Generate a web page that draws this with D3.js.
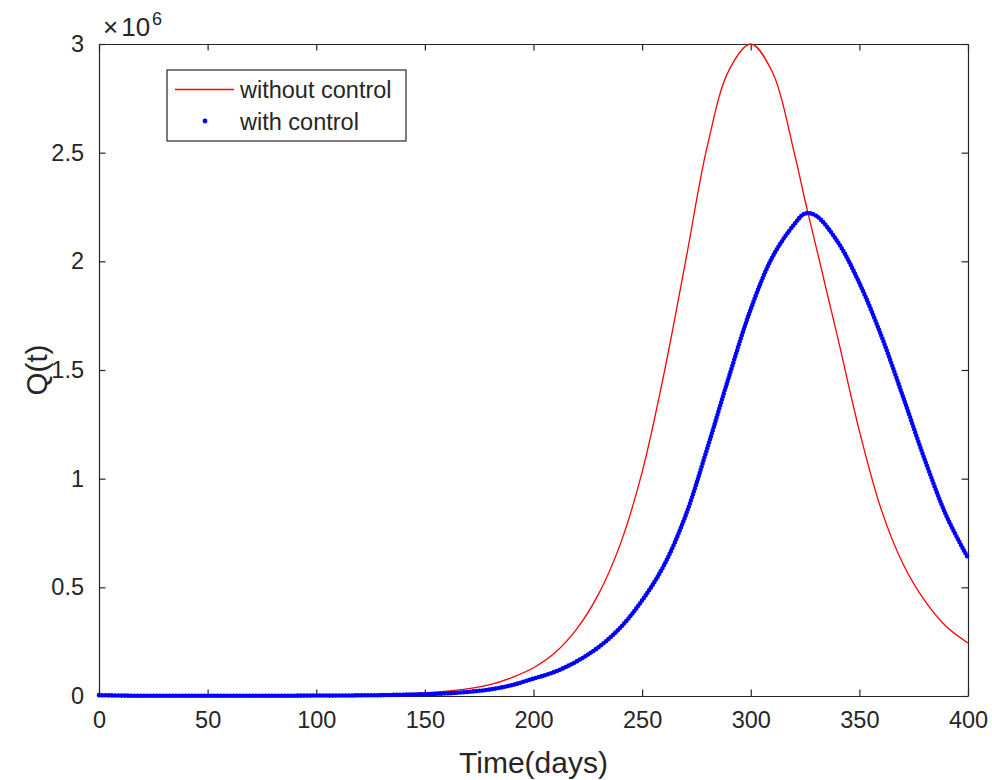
<!DOCTYPE html>
<html>
<head>
<meta charset="utf-8">
<script src="https://cdn.jsdelivr.net/npm/d3@7"></script>
<style>
  body { margin: 0; background: #fff; }
  svg { display: block; font-family: "Liberation Sans", Arial, sans-serif; }
</style>
</head>
<body>
<svg width="992" height="780"></svg>
<script>
"use strict"

// values, in units of 1e6
const days = [0, 10, 20, 30, 40, 50, 60, 70, 80, 90, 100, 110, 120, 130, 140, 150, 160, 170, 180, 190,
              200, 210, 220, 230, 240, 250, 260, 270, 280, 290, 300, 310, 320, 325, 330, 340, 350, 360,
              370, 380, 390, 400]
const withoutControl = [0.001, 0.001, 0.001, 0.001, 0.001, 0.001, 0.001, 0.001, 0.0015, 0.002, 0.002, 0.003, 0.004, 0.006, 0.009,
                        0.014, 0.022, 0.034, 0.052, 0.085, 0.13, 0.20, 0.31, 0.47, 0.70, 1.03, 1.48, 2.00, 2.53, 2.88,
                        3.0, 2.87, 2.50, 2.28, 2.07, 1.65, 1.22, 0.86, 0.61, 0.44, 0.32, 0.244]
const withControl = [0.004, 0.002, 0.001, 0.001, 0.001, 0.001, 0.001, 0.001, 0.001, 0.0015, 0.002, 0.002, 0.003, 0.004, 0.006,
                     0.008, 0.012, 0.019, 0.03, 0.05, 0.08, 0.112, 0.16, 0.225, 0.315, 0.44, 0.60, 0.83, 1.14, 1.47,
                     1.78, 2.02, 2.17, 2.22, 2.21, 2.09, 1.90, 1.66, 1.38, 1.09, 0.83, 0.635]
const xTicks = [0, 50, 100, 150, 200, 250, 300, 350, 400]
const yTicks = [0, 0.5, 1, 1.5, 2, 2.5, 3]
const seriesNames = ["without control", "with control"]

const margin = {left: 99, top: 44, right: 24, bottom: 84}
const width = 992 - margin.left - margin.right
const height = 780 - margin.top - margin.bottom
const axisColor = "#262626"
const tickFont = "23.5px"
const tickLen = 6.5

const svg = d3.select("svg")
const g = svg.append("g").attr("transform", "translate(" + margin.left + "," + margin.top + ")")

const x = d3.scaleLinear().domain([0, 400]).range([0, width])
const y = d3.scaleLinear().domain([0, 3]).range([height, 0])

// axes with inward ticks, mirrored on top and right
function styleAxis(sel) {
    sel.selectAll("path, line").attr("stroke", axisColor).attr("stroke-width", 1.2)
    sel.selectAll("text").attr("fill", axisColor).style("font-size", tickFont)
        .style("font-family", "'Liberation Sans', Arial, sans-serif")
}

g.append("g")
    .attr("transform", "translate(0," + height + ")")
    .call(d3.axisBottom(x).tickValues(xTicks).tickSizeInner(-tickLen).tickSizeOuter(0).tickPadding(15))
    .call(styleAxis)

g.append("g")
    .call(d3.axisTop(x).tickValues(xTicks).tickSizeInner(-tickLen).tickSizeOuter(0).tickFormat(""))
    .call(styleAxis)

g.append("g")
    .call(d3.axisLeft(y).tickValues(yTicks).tickSizeInner(-tickLen).tickSizeOuter(0).tickPadding(15)
        .tickFormat(d => String(d)))
    .call(styleAxis)

g.append("g")
    .attr("transform", "translate(" + width + ",0)")
    .call(d3.axisRight(y).tickValues(yTicks).tickSizeInner(-tickLen).tickSizeOuter(0).tickFormat(""))
    .call(styleAxis)

// exponent label
const expo = g.append("text")
    .attr("x", 4).attr("y", -8)
    .attr("fill", axisColor)
    .style("font-size", "26px")
expo.append("tspan").text("\u00d7")
expo.append("tspan").attr("dx", 3).text("10")
expo.append("tspan").attr("dx", 2).attr("dy", -11).style("font-size", "18px").text("6")

// axis titles
g.append("text")
    .attr("x", width / 2).attr("y", height + 77)
    .attr("text-anchor", "middle")
    .attr("fill", axisColor)
    .style("font-size", "30px")
    .text("Time(days)")

g.append("text")
    .attr("transform", "translate(-52," + (height / 2) + ") rotate(-90)")
    .attr("text-anchor", "middle")
    .attr("fill", axisColor)
    .style("font-size", "29.5px")
    .text("Q(t)")

// curves
const curveLine = d3.line()
    .x((d, i) => x(days[i]))
    .y(d => y(d))
    .curve(d3.curveCatmullRom.alpha(0.5))

g.append("path")
    .datum(withoutControl)
    .attr("d", curveLine)
    .attr("fill", "none")
    .attr("stroke", "#ff0000")
    .attr("stroke-width", 1.3)

g.append("path")
    .datum(withControl)
    .attr("d", curveLine)
    .attr("fill", "none")
    .attr("stroke", "#0000ff")
    .attr("stroke-width", 4.6)
    .attr("stroke-linecap", "round")
    .attr("stroke-dasharray", "0 3.2")

// legend
const legend = g.append("g").attr("transform", "translate(68,26)")
legend.append("rect")
    .attr("x", 0).attr("y", 0).attr("width", 239).attr("height", 71)
    .attr("fill", "#fff").attr("stroke", axisColor).attr("stroke-width", 1.2)
legend.append("line")
    .attr("x1", 8).attr("x2", 67).attr("y1", 19.5).attr("y2", 19.5)
    .attr("stroke", "#ff0000").attr("stroke-width", 1.3)
legend.append("circle")
    .attr("cx", 38).attr("cy", 51).attr("r", 2.4)
    .attr("fill", "#0000ff")
legend.selectAll("text.lab")
    .data(seriesNames)
    .enter()
    .append("text")
    .attr("class", "lab")
    .attr("x", 73)
    .attr("y", (d, i) => 20 + i * 31.5)
    .attr("dy", "0.35em")
    .attr("fill", axisColor)
    .style("font-size", "23.5px")
    .text(d => d)
</script>
</body>
</html>
